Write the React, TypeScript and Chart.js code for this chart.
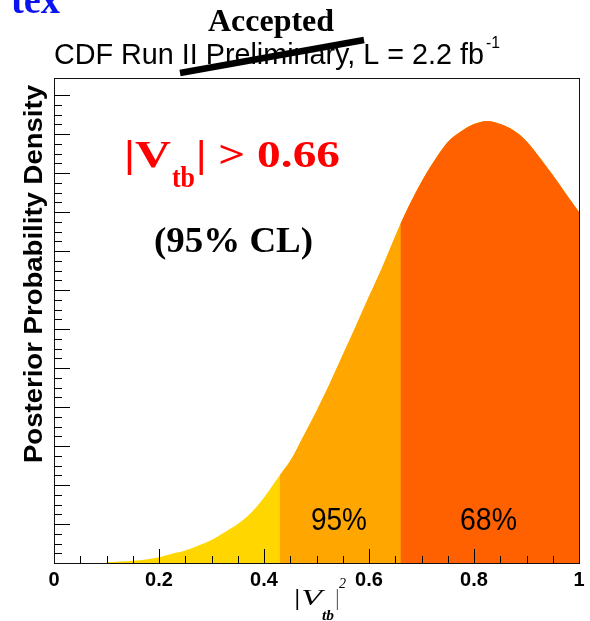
import React, { useEffect, useRef } from "react";
import { Chart, registerables } from "chart.js";

Chart.register(...registerables);

// ---- data ----
const binCenters = [
  0.1, 0.125, 0.15, 0.175, 0.2, 0.225, 0.25, 0.275, 0.3, 0.325, 0.35, 0.375, 0.4,
  0.43, 0.45, 0.475, 0.5, 0.525, 0.55, 0.575, 0.6, 0.625, 0.66, 0.675, 0.7, 0.725,
  0.75, 0.775, 0.8, 0.825, 0.85, 0.875, 0.9, 0.925, 0.95, 0.975, 1.0,
];
const density = [
  0.02, 0.04, 0.06, 0.09, 0.15, 0.24, 0.32, 0.45, 0.59, 0.79, 1.0, 1.28, 1.68,
  2.25, 2.62, 3.25, 3.9, 4.6, 5.34, 6.08, 6.84, 7.58, 8.7, 9.13, 9.78, 10.33,
  10.8, 11.07, 11.26, 11.34, 11.26, 11.1, 10.82, 10.4, 9.95, 9.47, 9.0,
];
const regionStarts = [0.1, 0.43, 0.66];
const regionColors = ["#FFD600", "#FFA600", "#FF6100"];
const regionLabels = ["95%", "68%"];
const xMajorValues = [0, 0.2, 0.4, 0.6, 0.8, 1];
const xTickLabels = ["0", "0.2", "0.4", "0.6", "0.8", "1"];
const xMinorStep = 0.05;
const yMinorStep = 0.25;
const yMajorStep = 1;
const yMax = 12.44;
const titleText = "CDF Run II Preliminary, L = 2.2 fb";
const titleSup = "-1";
const stampText = "Accepted";
const yTitle = "Posterior Probability Density";
const limitText = ["|V", "tb", "| > 0.66"];
const clText = "(95% CL)";
const cornerText = "tex";

const SANS = "'Liberation Sans', Arial, sans-serif";
const SERIF = "'Liberation Serif', 'Times New Roman', serif";

function isMultiple(v: number, step: number) {
  const k = v / step;
  return Math.abs(k - Math.round(k)) < 1e-6;
}

function fitText(
  ctx: CanvasRenderingContext2D,
  text: string,
  x0: number,
  x1: number,
  baseline: number,
  font: string,
  color: string
) {
  ctx.save();
  ctx.font = font;
  ctx.fillStyle = color;
  ctx.textAlign = "left";
  ctx.textBaseline = "alphabetic";
  const w = ctx.measureText(text).width;
  const sx = (x1 - x0) / w;
  ctx.translate(x0, baseline);
  ctx.scale(sx, 1);
  ctx.fillText(text, 0, 0);
  ctx.restore();
}

const decorPlugin = {
  id: "decor",
  afterDatasetsDraw(chart: any) {
    const { ctx, chartArea: a, scales } = chart;
    const xs = scales.x;
    const ys = scales.y;
    ctx.save();
    ctx.strokeStyle = "#000";
    ctx.lineWidth = 1;
    for (const t of xs.ticks) {
      const v = t.value;
      if (!isMultiple(v, xMinorStep)) continue;
      const major = isMultiple(v, 0.2);
      const px = Math.round(xs.getPixelForValue(v)) + 0.5;
      ctx.beginPath();
      ctx.moveTo(px, a.bottom);
      ctx.lineTo(px, a.bottom - (major ? 14 : 7));
      ctx.stroke();
    }
    for (const t of ys.ticks) {
      const v = t.value;
      if (!isMultiple(v, yMinorStep)) continue;
      const major = isMultiple(v, yMajorStep);
      const py = Math.round(ys.getPixelForValue(v)) + 0.5;
      ctx.beginPath();
      ctx.moveTo(a.left, py);
      ctx.lineTo(a.left + (major ? 16 : 8), py);
      ctx.stroke();
    }
    ctx.strokeStyle = "#111";
    ctx.strokeRect(
      Math.round(a.left) + 0.5,
      Math.round(a.top) + 0.5,
      Math.round(a.right - a.left),
      Math.round(a.bottom - a.top)
    );
    ctx.restore();
  },
  afterDraw(chart: any) {
    const { ctx } = chart;
    fitText(ctx, cornerText, 11, 60, 13, `bold 40px ${SERIF}`, "#0A14F0");
    fitText(ctx, stampText, 208, 334, 31, `bold 32px ${SERIF}`, "#000");
    fitText(ctx, titleText, 54, 484, 64, `29px ${SANS}`, "#000");
    fitText(ctx, titleSup, 486, 500, 48, `17px ${SANS}`, "#000");
    ctx.save();
    ctx.strokeStyle = "#000";
    ctx.lineWidth = 6.5;
    ctx.lineCap = "butt";
    ctx.beginPath();
    ctx.moveTo(180, 73);
    ctx.lineTo(364, 40);
    ctx.stroke();
    ctx.restore();
    ctx.save();
    ctx.translate(42, 463);
    ctx.rotate(-Math.PI / 2);
    fitText(ctx, yTitle, 0, 378, 0, `bold 25px ${SANS}`, "#000");
    ctx.restore();
    fitText(ctx, "|V", 292, 322, 605, `italic 23px ${SERIF}`, "#000");
    fitText(ctx, "tb", 322, 334, 620, `italic bold 14px ${SERIF}`, "#000");
    fitText(ctx, "|", 335, 339, 605, `italic 23px ${SERIF}`, "#000");
    fitText(ctx, "2", 339, 346, 588, `italic 15px ${SERIF}`, "#000");
    fitText(ctx, limitText[0], 124, 171, 167, `bold 38px ${SERIF}`, "#F00");
    fitText(ctx, limitText[1], 172, 195, 187, `bold 30px ${SERIF}`, "#F00");
    fitText(ctx, limitText[2], 196, 340, 167, `bold 38px ${SERIF}`, "#F00");
    fitText(ctx, clText, 154, 313, 252, `bold 35px ${SERIF}`, "#000");
    fitText(ctx, regionLabels[0], 311, 367, 530, `32px ${SANS}`, "#000");
    fitText(ctx, regionLabels[1], 460, 517, 530, `32px ${SANS}`, "#000");
  },
};

function regionData(lo: number) {
  const pts: { x: number; y: number }[] = [];
  binCenters.forEach((x, i) => {
    if (x >= lo - 1e-9) pts.push({ x, y: density[i] });
  });
  return pts;
}

export default function App() {
  const ref = useRef<HTMLCanvasElement | null>(null);
  useEffect(() => {
    if (!ref.current) return;
    // later regions are layered on top of earlier ones (index 0 is drawn last)
    const datasets = regionColors
      .map((c, i) => ({
        data: regionData(regionStarts[i]),
        backgroundColor: c,
        borderColor: c,
        borderWidth: 0,
        pointRadius: 0,
        fill: "origin",
        cubicInterpolationMode: "monotone" as const,
      }))
      .reverse();
    const chart = new Chart(ref.current, {
      type: "line",
      data: { datasets },
      options: {
        responsive: false,
        animation: false,
        devicePixelRatio: 1,
        layout: { padding: { top: 78, left: 54, right: 11, bottom: 24 } },
        plugins: {
          legend: { display: false },
          tooltip: { enabled: false },
        },
        scales: {
          x: {
            type: "linear",
            min: 0,
            max: 1,
            ticks: {
              stepSize: xMinorStep,
              autoSkip: false,
              maxRotation: 0,
              minRotation: 0,
              padding: 5,
              color: "#000",
              font: { family: SANS, weight: "bold", size: 20 },
              callback: (v: any) => {
                const idx = xMajorValues.findIndex((m) => Math.abs(m - Number(v)) < 1e-6);
                return idx >= 0 ? xTickLabels[idx] : "";
              },
            },
            grid: { display: false, drawTicks: false },
            border: { display: false },
          },
          y: {
            type: "linear",
            min: 0,
            max: yMax,
            ticks: { display: false, stepSize: yMinorStep },
            grid: { display: false, drawTicks: false },
            border: { display: false },
          },
        },
      } as any,
      plugins: [decorPlugin],
    });
    return () => chart.destroy();
  }, []);
  return (
    <div style={{ position: "fixed", left: 0, top: 0, width: 590, height: 621, background: "#fff" }}>
      <canvas ref={ref} width={590} height={621} style={{ display: "block" }} />
    </div>
  );
}
